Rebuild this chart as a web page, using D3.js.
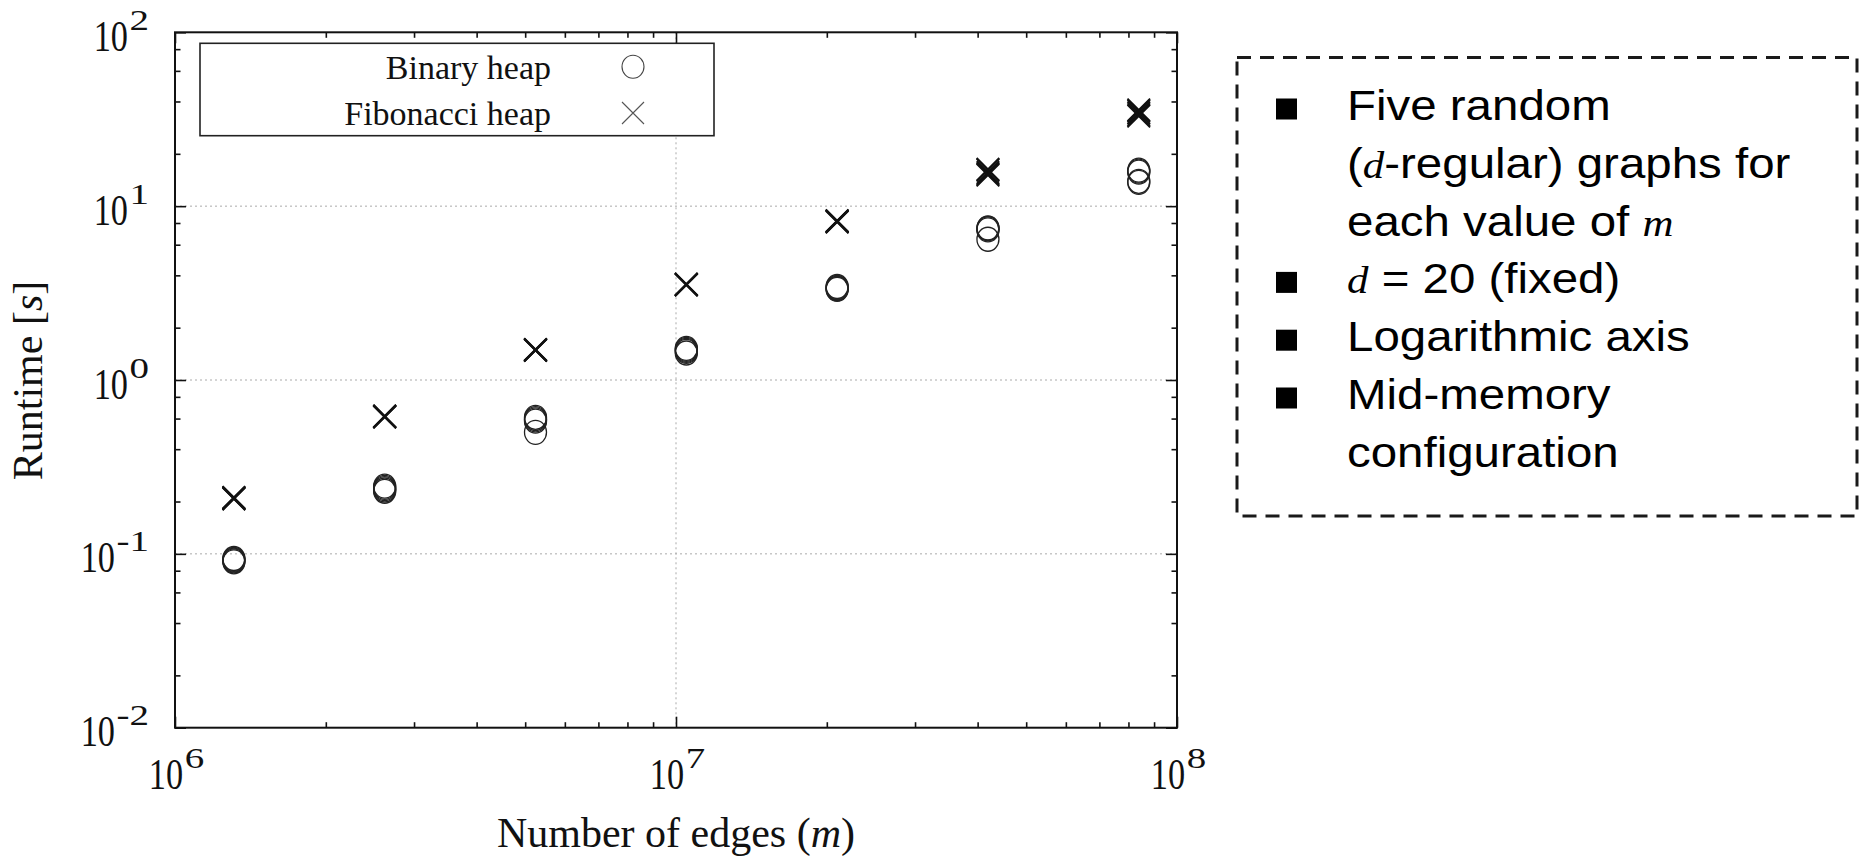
<!DOCTYPE html>
<html>
<head>
<meta charset="utf-8">
<style>
  body { margin: 0; background: #fff; }
  svg { display: block; }
</style>
</head>
<body>
<svg width="1864" height="858"></svg>
<script src="https://cdn.jsdelivr.net/npm/d3@7"></script>
<script>

// number of edges m (d = 20, so m = 10 * n, n = 2^17 .. 2^23)
var edges = [1310720, 2621440, 5242880, 10485760, 20971520, 41943040, 83886080];

// runtime in seconds, five random graphs for each value of m
var binaryHeap = [
  [0.094, 0.093, 0.092, 0.091, 0.090],
  [0.245, 0.241, 0.237, 0.233, 0.229],
  [0.61, 0.60, 0.59, 0.58, 0.50],
  [1.52, 1.50, 1.48, 1.46, 1.43],
  [3.45, 3.41, 3.38, 3.35, 3.32],
  [7.5, 7.45, 7.4, 7.3, 6.45],
  [16.1, 15.9, 15.7, 13.9, 13.7]
];
var fibonacciHeap = [
  [0.211, 0.210, 0.209, 0.208, 0.207],
  [0.620, 0.618, 0.616, 0.614, 0.612],
  [1.50, 1.49, 1.49, 1.48, 1.48],
  [3.56, 3.55, 3.54, 3.53, 3.52],
  [8.25, 8.2, 8.18, 8.15, 8.1],
  [16.3, 16.1, 15.6, 15.3, 15.1],
  [35.8, 35.2, 34.4, 33.6, 33.0]
];

var xTicks = [1e6, 1e7, 1e8];
var xTickExp = ["6", "7", "8"];
var yTicks = [1e-2, 1e-1, 1e0, 1e1, 1e2];
var yTickExp = ["-2", "-1", "0", "1", "2"];

var legendLabels = ["Binary heap", "Fibonacci heap"];
var legendSymbols = ["circle", "cross"];

// notes panel: [text, style] 0 = sans, 1 = italic serif
var notes = [
  { bullet: true,  parts: [["Five random", 0]] },
  { bullet: false, parts: [["(", 0], ["d", 1], ["-regular) graphs for", 0]] },
  { bullet: false, parts: [["each value of ", 0], ["m", 1]] },
  { bullet: true,  parts: [["d", 1], [" = 20 (fixed)", 0]] },
  { bullet: true,  parts: [["Logarithmic axis", 0]] },
  { bullet: true,  parts: [["Mid-memory", 0]] },
  { bullet: false, parts: [["configuration", 0]] }
];

var serif = "'Liberation Serif', 'Times New Roman', serif";
var sans = "'Liberation Sans', Arial, sans-serif";

var svg = d3.select("svg");
svg.append("rect").attr("width", 1864).attr("height", 858).attr("fill", "#fff");

var plotLeft = 175, plotRight = 1177, plotTop = 32.3, plotBottom = 727.7;

var x = d3.scaleLog().domain([1e6, 1e8]).range([plotLeft, plotRight]);
var y = d3.scaleLog().domain([1e-2, 1e2]).range([plotBottom, plotTop]);

// minor ticks
var xMinor = [];
[1e6, 1e7].forEach(function(d) { for (var k = 2; k <= 9; k++) xMinor.push(k * d); });
var yMinor = [];
[1e-2, 1e-1, 1e0, 1e1].forEach(function(d) { [2, 4, 6, 8].forEach(function(k) { yMinor.push(k * d); }); });

// grid (dotted)
var grid = svg.append("g").attr("stroke", "#aaa").attr("stroke-width", 1).attr("stroke-dasharray", "2,3");
grid.selectAll(".gy").data(yTicks.slice(1, -1)).enter().append("line")
  .attr("x1", plotLeft).attr("x2", plotRight)
  .attr("y1", function(d) { return y(d); }).attr("y2", function(d) { return y(d); });
grid.selectAll(".gx").data(xTicks.slice(1, -1)).enter().append("line")
  .attr("y1", plotTop).attr("y2", plotBottom)
  .attr("x1", function(d) { return x(d); }).attr("x2", function(d) { return x(d); });

// ticks on all four sides, pointing inward
function addTicks(axisFn, scale, values, size, transform) {
  svg.append("g")
    .attr("transform", transform)
    .call(axisFn(scale).tickValues(values).tickSize(size).tickFormat(""))
    .call(function(g) { g.select(".domain").remove(); })
    .selectAll("line").attr("stroke", "#111").attr("stroke-width", 1.6);
}
addTicks(d3.axisBottom, x, xTicks, -11, "translate(0," + plotBottom + ")");
addTicks(d3.axisBottom, x, xMinor, -5.5, "translate(0," + plotBottom + ")");
addTicks(d3.axisTop, x, xTicks, -11, "translate(0," + plotTop + ")");
addTicks(d3.axisTop, x, xMinor, -5.5, "translate(0," + plotTop + ")");
addTicks(d3.axisLeft, y, yTicks, -11, "translate(" + plotLeft + ",0)");
addTicks(d3.axisLeft, y, yMinor, -5.5, "translate(" + plotLeft + ",0)");
addTicks(d3.axisRight, y, yTicks, -11, "translate(" + plotRight + ",0)");
addTicks(d3.axisRight, y, yMinor, -5.5, "translate(" + plotRight + ",0)");

// frame
svg.append("rect")
  .attr("x", plotLeft).attr("y", plotTop).attr("width", plotRight - plotLeft).attr("height", plotBottom - plotTop)
  .attr("fill", "none").attr("stroke", "#111").attr("stroke-width", 2);

// power-of-ten labels: condensed "10" plus wide superscript
function powerLabel(g, exp, anchor) {
  var sup = g.append("text").attr("font-family", serif).attr("font-size", 30).attr("fill", "#111").text(exp);
  var baseG = g.append("g");
  var base = baseG.append("text").attr("font-family", serif).attr("font-size", 44).attr("fill", "#111").text("10");
  var ws = sup.node().getComputedTextLength() * 1.3;
  var wb = base.node().getComputedTextLength() * 0.78;
  var total = wb + 1.5 + ws;
  var start = anchor === "end" ? -total : -total / 2;
  baseG.attr("transform", "translate(" + start + ",0) scale(0.78,1)");
  sup.attr("transform", "translate(" + (start + wb + 1.5) + ",-21) scale(1.3,1)");
}

yTicks.forEach(function(v, i) {
  var g = svg.append("g").attr("transform", "translate(149," + (y(v) + 18.5) + ")");
  powerLabel(g, yTickExp[i], "end");
});
xTicks.forEach(function(v, i) {
  var g = svg.append("g").attr("transform", "translate(" + (x(v) + 1.5) + ",789)");
  powerLabel(g, xTickExp[i], "middle");
});

// axis titles
var yTitle = svg.append("text")
  .attr("transform", "translate(42,380.5) rotate(-90)")
  .attr("text-anchor", "middle").attr("font-family", serif).attr("font-size", 42).attr("fill", "#111");
yTitle.append("tspan").text("Runtime [");
yTitle.append("tspan").attr("font-style", "italic").text("s");
yTitle.append("tspan").text("]");

var xTitle = svg.append("text")
  .attr("x", (plotLeft + plotRight) / 2).attr("y", 846.7)
  .attr("text-anchor", "middle").attr("font-family", serif).attr("font-size", 42).attr("fill", "#111");
xTitle.append("tspan").text("Number of edges (");
xTitle.append("tspan").attr("font-style", "italic").text("m");
xTitle.append("tspan").text(")");

// markers
var crossPath = function(s) { return "M" + (-s) + "," + (-s) + "L" + s + "," + s + "M" + (-s) + "," + s + "L" + s + "," + (-s); };

var binPts = [], fibPts = [];
edges.forEach(function(m, i) {
  binaryHeap[i].forEach(function(t) { binPts.push([m, t]); });
  fibonacciHeap[i].forEach(function(t) { fibPts.push([m, t]); });
});

svg.append("g").selectAll("ellipse").data(binPts).enter().append("ellipse")
  .attr("cx", function(d) { return x(d[0]); })
  .attr("cy", function(d) { return y(d[1]); })
  .attr("rx", 11).attr("ry", 12)
  .attr("fill", "none").attr("stroke", "#222").attr("stroke-width", 1.3);

svg.append("g").selectAll("path").data(fibPts).enter().append("path")
  .attr("transform", function(d) { return "translate(" + x(d[0]) + "," + y(d[1]) + ")"; })
  .attr("d", crossPath(11.3))
  .attr("fill", "none").attr("stroke", "#111").attr("stroke-width", 1.9);

// legend
svg.append("rect")
  .attr("x", 200).attr("y", 43.3).attr("width", 514).attr("height", 92.4)
  .attr("fill", "#fff").attr("stroke", "#222").attr("stroke-width", 1.6);
var legendY = [67.5, 113];
legendLabels.forEach(function(label, i) {
  svg.append("text")
    .attr("x", 551).attr("y", legendY[i] + 11.5)
    .attr("text-anchor", "end").attr("font-family", serif).attr("font-size", 34).attr("fill", "#111")
    .text(label);
  if (legendSymbols[i] === "circle") {
    svg.append("ellipse").attr("cx", 633).attr("cy", legendY[i] - 0.8).attr("rx", 11).attr("ry", 11.5)
      .attr("fill", "none").attr("stroke", "#444").attr("stroke-width", 1.1);
  } else {
    svg.append("path").attr("transform", "translate(633," + legendY[i] + ")").attr("d", crossPath(11))
      .attr("fill", "none").attr("stroke", "#555").attr("stroke-width", 1.1);
  }
});

// notes panel
svg.append("rect")
  .attr("x", 1237).attr("y", 57.5).attr("width", 620).attr("height", 458.5)
  .attr("fill", "none").attr("stroke", "#1a1a1a").attr("stroke-width", 3)
  .attr("stroke-dasharray", "14,9");

notes.forEach(function(line, i) {
  var base = 120 + i * 57.8;
  if (line.bullet) {
    svg.append("rect").attr("x", 1276).attr("y", base - 21.5).attr("width", 21).attr("height", 21).attr("fill", "#000");
  }
  var t = svg.append("g").attr("transform", "translate(1347," + base + ") scale(1.13,1)")
    .append("text").attr("x", 0).attr("y", 0).attr("fill", "#000");
  line.parts.forEach(function(p) {
    var s = t.append("tspan").text(p[0]);
    if (p[1] === 1) s.attr("font-family", serif).attr("font-style", "italic").attr("font-size", 38);
    else s.attr("font-family", sans).attr("font-size", 42);
  });
});

</script>
</body>
</html>
